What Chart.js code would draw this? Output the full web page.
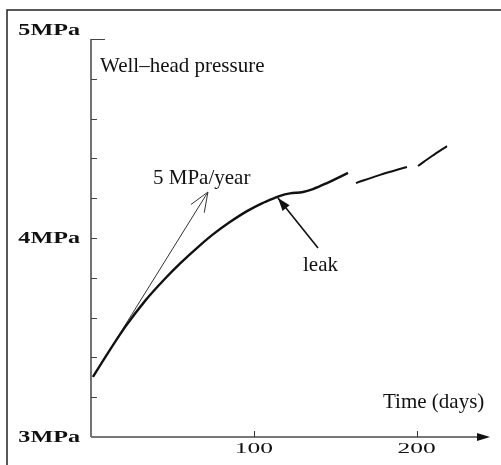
<!DOCTYPE html>
<html>
<head>
<meta charset="utf-8">
<script src="https://cdn.jsdelivr.net/npm/chart.js@4.4.0/dist/chart.umd.min.js"></script>
<style>
  html, body { margin: 0; padding: 0; background: #fff; }
  #wrap { width: 501px; height: 465px; }
</style>
</head>
<body>
<div id="wrap"><canvas id="chart" width="501" height="465"></canvas></div>
<script>
// well-head pressure (days, MPa), recorded in three pieces
const daysA = [1.2, 8.6, 20.9, 33.2, 45.4, 54.6, 66.9, 74.9, 85.3, 95.8, 105.0, 111.8, 116.1, 122.2, 130.2, 136.3, 144.9, 157.8]
const pressA = [3.302, 3.399, 3.552, 3.684, 3.795, 3.871, 3.963, 4.018, 4.080, 4.135, 4.174, 4.198, 4.212, 4.224, 4.231, 4.246, 4.276, 4.327]
const daysB = [162.7, 177.5, 194.0]
const pressB = [4.276, 4.317, 4.357]
const daysC = [200.8, 209.4, 218.6]
const pressC = [4.362, 4.412, 4.462]

// initial slope line (5 MPa/year) and the leak pointer
const slopeDays = [1.2, 71.8]
const slopePress = [3.302, 4.231]
const leakDays = [139.4, 114.8]
const leakPress = [3.950, 4.201]

// axes
const yTicks = [3, 3.2, 3.4, 3.6, 3.8, 4, 4.2, 4.4, 4.6, 4.8, 5]
const yLabelValues = [3, 4, 5]
const yLabels = ['3MPa', '4MPa', '5MPa']
const xTicks = [100, 200]
const xLabels = ['100', '200']

const pts = (xs, ys) => xs.map((v, i) => ({ x: v, y: ys[i] }))

const SERIF = '"Liberation Serif", "Times New Roman", serif'

function stretchText(ctx, text, px, py, sx, align) {
  ctx.save()
  ctx.translate(px, py)
  ctx.scale(sx, 1)
  ctx.textAlign = align
  ctx.fillText(text, 0, 0)
  ctx.restore()
}

function filledHead(ctx, tx, ty, fx, fy, len, half) {
  const a = Math.atan2(ty - fy, tx - fx)
  ctx.beginPath()
  ctx.moveTo(tx, ty)
  ctx.lineTo(tx - len * Math.cos(a) + half * Math.sin(a), ty - len * Math.sin(a) - half * Math.cos(a))
  ctx.lineTo(tx - len * Math.cos(a) - half * Math.sin(a), ty - len * Math.sin(a) + half * Math.cos(a))
  ctx.closePath()
  ctx.fill()
}

const decor = {
  id: 'decor',
  afterDraw(chart) {
    const { ctx, scales: { x, y } } = chart
    const x0 = x.getPixelForValue(0)
    const yb = y.getPixelForValue(3)
    const yt = y.getPixelForValue(5)
    ctx.save()

    // frame
    ctx.strokeStyle = '#222'
    ctx.lineWidth = 1.5
    ctx.beginPath()
    ctx.moveTo(7, 465)
    ctx.lineTo(7, 10)
    ctx.lineTo(501, 10)
    ctx.stroke()

    // y axis with inward ticks
    ctx.strokeStyle = '#444'
    ctx.lineWidth = 1.5
    ctx.beginPath()
    ctx.moveTo(x0, yt)
    ctx.lineTo(x0, yb)
    ctx.stroke()
    ctx.lineWidth = 1
    yTicks.forEach(v => {
      const py = Math.round(y.getPixelForValue(v)) + 0.5
      ctx.beginPath()
      ctx.moveTo(x0, py)
      ctx.lineTo(x0 + (v === 5 ? 14 : 6), py)
      ctx.stroke()
    })

    // x axis with arrow
    ctx.strokeStyle = '#777'
    ctx.lineWidth = 2
    ctx.beginPath()
    ctx.moveTo(x0, yb)
    ctx.lineTo(x.right - 8, yb)
    ctx.stroke()
    ctx.fillStyle = '#111'
    filledHead(ctx, x.right, yb, x0, yb, 13, 4)
    ctx.strokeStyle = '#333'
    ctx.lineWidth = 1
    xTicks.forEach(v => {
      const px = Math.round(x.getPixelForValue(v)) + 0.5
      ctx.beginPath()
      ctx.moveTo(px, yb)
      ctx.lineTo(px, yb - 6)
      ctx.stroke()
    })

    // tick labels
    ctx.fillStyle = '#111'
    ctx.textBaseline = 'alphabetic'
    ctx.font = 'bold 17px ' + SERIF
    yLabelValues.forEach((v, i) => {
      const py = y.getPixelForValue(v) + (v === 5 ? -4 : 5)
      stretchText(ctx, yLabels[i], 80, py, 1.42, 'right')
    })
    ctx.font = '15px ' + SERIF
    xTicks.forEach((v, i) => {
      stretchText(ctx, xLabels[i], x.getPixelForValue(v), yb + 16, 1.7, 'center')
    })

    // annotations
    ctx.font = '21px ' + SERIF
    ctx.textAlign = 'left'
    ctx.fillText('Well\u2013head pressure', 100, 72)
    ctx.fillText('5 MPa/year', 153, 184)
    ctx.fillText('leak', 303, 271)
    ctx.fillText('Time (days)', 383, 408)

    // open arrowhead on the slope line
    const sx = x.getPixelForValue(slopeDays[1]), sy = y.getPixelForValue(slopePress[1])
    const fx = x.getPixelForValue(slopeDays[0]), fy = y.getPixelForValue(slopePress[0])
    const a = Math.atan2(sy - fy, sx - fx)
    ctx.strokeStyle = '#333'
    ctx.lineWidth = 1
    ctx.beginPath()
    ;[0.38, -0.38].forEach(d => {
      ctx.moveTo(sx, sy)
      ctx.lineTo(sx - 21 * Math.cos(a + d), sy - 21 * Math.sin(a + d))
    })
    ctx.stroke()

    // leak pointer head
    const lx = x.getPixelForValue(leakDays[1]), ly = y.getPixelForValue(leakPress[1])
    const kx = x.getPixelForValue(leakDays[0]), ky = y.getPixelForValue(leakPress[0])
    ctx.fillStyle = '#111'
    filledHead(ctx, lx, ly, kx, ky, 13, 4.5)

    ctx.restore()
  }
}

const curve = (data, w) => ({
  data, borderColor: '#111', borderWidth: w, pointRadius: 0, tension: 0.4,
  cubicInterpolationMode: 'monotone', fill: false
})

new Chart(document.getElementById('chart'), {
  type: 'line',
  data: {
    datasets: [
      curve(pts(daysA, pressA), 2.4),
      curve(pts(daysB, pressB), 2),
      curve(pts(daysC, pressC), 2),
      { data: pts(slopeDays, slopePress), borderColor: '#333', borderWidth: 1, pointRadius: 0, tension: 0 },
      { data: pts(leakDays, leakPress), borderColor: '#111', borderWidth: 1.6, pointRadius: 0, tension: 0 }
    ]
  },
  options: {
    responsive: false,
    animation: false,
    devicePixelRatio: 1,
    layout: { padding: { left: 91, top: 39, right: 11, bottom: 28 } },
    plugins: { legend: { display: false }, tooltip: { enabled: false } },
    scales: {
      x: { type: 'linear', min: 0, max: 245, display: false },
      y: { type: 'linear', min: 3, max: 5, display: false }
    }
  },
  plugins: [decor]
})
</script>
</body>
</html>
